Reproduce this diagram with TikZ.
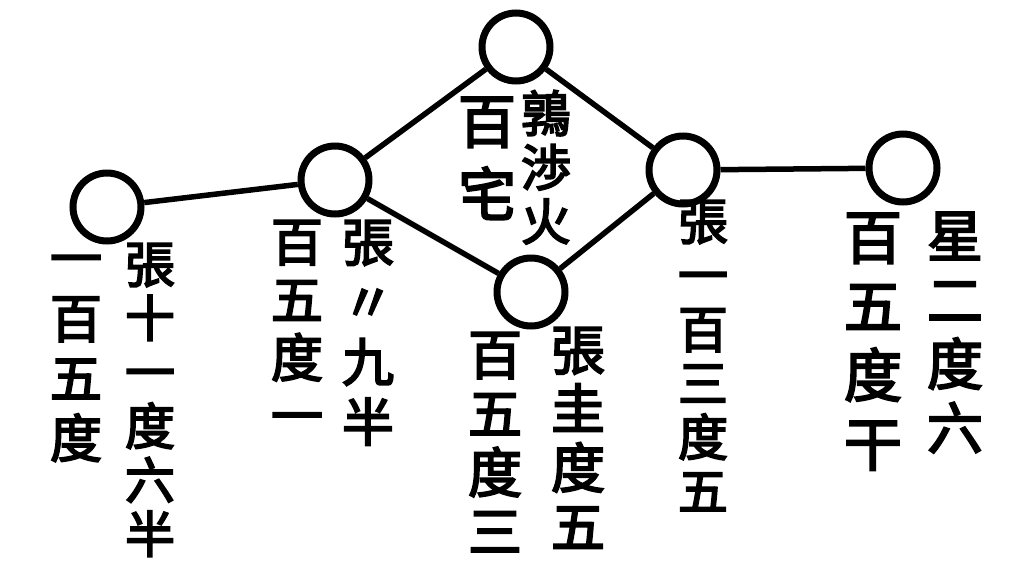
\documentclass[tikz,border=0pt]{standalone}
\usepackage{fontspec}
\newfontfamily\cjk{Noto Sans CJK TC}[FakeBold=3.5]
\begin{document}
\begin{tikzpicture}[x=1pt,y=-1pt,
  star/.style={circle,draw=black,line width=7pt,minimum size=68pt,inner sep=0pt,fill=none},
  link/.style={draw=black,line width=5.5pt},
  vcol/.style 2 args={font=\cjk\fontsize{#1}{#2}\selectfont,align=center,inner sep=0pt,anchor=north,text=black}]
\useasboundingbox[fill=white] (0,0) rectangle (1018,587);
% stars
\node[star] (c1) at (107,207) {};
\node[star] (c2) at (335,180) {};
\node[star] (c3) at (516,47) {};
\node[star] (c4) at (531,292) {};
\node[star] (c5) at (683,170) {};
\node[star] (c6) at (903,168) {};
% connectors
\draw[link] (c1) -- (c2);
\draw[link] (c2) -- (c3);
\draw[link] (c2) -- (c4);
\draw[link] (c3) -- (c5);
\draw[link] (c5) -- (c4);
\draw[link] (c5) -- (c6);
% labels
\node[vcol={50}{54}] (t1r) at (150,243) {張\\十\\一\\度\\六\\半};
\node[vcol={52}{60}] (t1l) at (76,255) {一\\百\\五\\度};
\node[vcol={52}{60}] (t2r) at (368,220) {張\\〃\\九\\半};
\node[vcol={52}{58}] (t2l) at (297,220) {百\\五\\度\\一};
\node[vcol={50}{54}] (t3r) at (546,90) {鶉\\渉\\火};
\node[vcol={58}{73}] (t3l) at (487,97) {百\\宅};
\node[vcol={54}{59}] (t4r) at (578,327) {張\\圭\\度\\五};
\node[vcol={54}{59}] (t4l) at (495,332) {百\\五\\度\\三};
\node[vcol={50}{54}] (t5) at (703,200) {張\\一\\百\\三\\度\\五};
\node[vcol={56}{64}] (t6r) at (955,212) {星\\二\\度\\六};
\node[vcol={58}{69}] (t6l) at (873,213) {百\\五\\度\\干};
\end{tikzpicture}
\end{document}
